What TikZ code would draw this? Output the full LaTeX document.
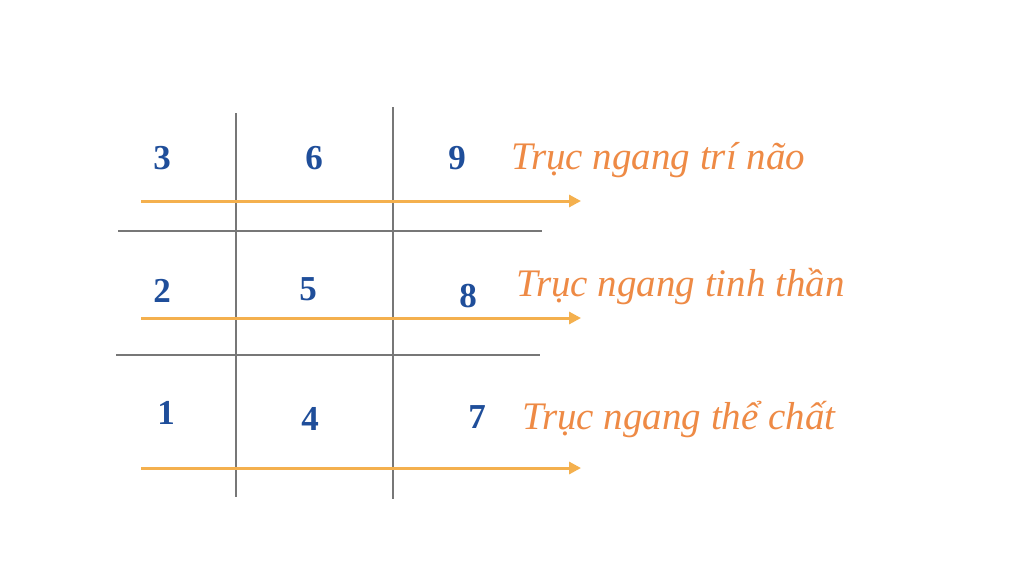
\documentclass[tikz,border=0pt]{standalone}
\usepackage{fontspec}
\setmainfont{Liberation Serif}
\usetikzlibrary{arrows.meta}

\definecolor{numblue}{HTML}{1F4E9A}
\definecolor{axisorange}{HTML}{F4B04E}
\definecolor{textorange}{HTML}{EE8A45}
\definecolor{gridgray}{HTML}{777777}

\tikzset{
  num/.style={text=numblue, font=\fontsize{35}{35}\selectfont\bfseries},
  axistext/.style={text=textorange, anchor=west, font=\fontsize{39}{39}\selectfont\itshape},
  axis/.style={axisorange, line width=3pt, -{Triangle[length=12pt,width=12pt]}},
  gridline/.style={gridgray, line width=2.5pt}
}

\begin{document}
\begin{tikzpicture}[x=1pt,y=-1pt]
\useasboundingbox[fill=white] (0,0) rectangle (1024,576);
% grid
\draw[gridline] (236,113) -- (236,497);
\draw[gridline] (393,107) -- (393,499);
\draw[gridline] (118,231) -- (542,231);
\draw[gridline] (116,355) -- (540,355);
% numbers
\node[num] (n3) at (162,158) {3};
\node[num] (n6) at (314,158) {6};
\node[num] (n9) at (457,158) {9};
\node[num] (n2) at (162,291) {2};
\node[num] (n5) at (308,289) {5};
\node[num] (n8) at (468,296) {8};
\node[num] (n1) at (166,413) {1};
\node[num] (n4) at (310,419) {4};
\node[num] (n7) at (477,417) {7};
% axes
\coordinate (a1s) at (141,201);
\coordinate (a1e) at (581,201);
\coordinate (a2s) at (141,318);
\coordinate (a2e) at (581,318);
\coordinate (a3s) at (141,468);
\coordinate (a3e) at (581,468);
\draw[axis] (a1s) -- (a1e);
\draw[axis] (a2s) -- (a2e);
\draw[axis] (a3s) -- (a3e);
% labels
\node[axistext] (brain) at (508,160) {Trục ngang trí não};
\node[axistext] (spirit) at (513,287) {Trục ngang tinh thần};
\node[axistext] (body) at (519,420) {Trục ngang thể chất};
\end{tikzpicture}
\end{document}
